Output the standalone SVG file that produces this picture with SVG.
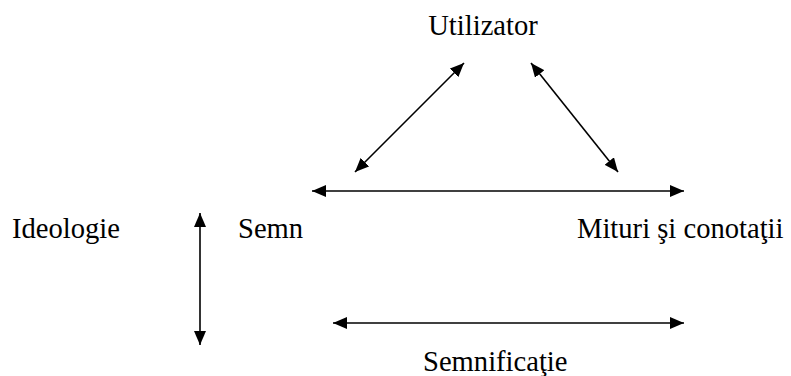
<svg xmlns="http://www.w3.org/2000/svg" width="791" height="376" viewBox="0 0 791 376">
  <style>
    .lbl { font-family: "Liberation Serif", "Times New Roman", serif; font-size: 28.6px; fill: #000; }
    .conn line { stroke: #000; stroke-width: 1.6; marker-start: url(#ah); marker-end: url(#ah); }
  </style>
  <defs>
    <marker id="ah" viewBox="0 0 14 12" refX="14" refY="6" markerWidth="14" markerHeight="12" markerUnits="userSpaceOnUse" orient="auto-start-reverse">
      <path d="M0,0 L14,6 L0,12 Z" fill="#000"/>
    </marker>
  </defs>
  <rect width="791" height="376" fill="#fff"/>

  <g id="node-utilizator"><text class="lbl" x="483" y="35" text-anchor="middle">Utilizator</text></g>
  <g id="node-ideologie"><text class="lbl" x="12" y="238">Ideologie</text></g>
  <g id="node-semn"><text class="lbl" x="238" y="238">Semn</text></g>
  <g id="node-mituri"><text class="lbl" x="577" y="238">Mituri şi conotaţii</text></g>
  <g id="node-semnificatie"><text class="lbl" x="423" y="371">Semnificaţie</text></g>

  <g id="connectors" class="conn">
    <line x1="355" y1="172" x2="464" y2="63"/>
    <line x1="531" y1="63" x2="618" y2="172"/>
    <line x1="312" y1="191" x2="684" y2="191"/>
    <line x1="333" y1="323" x2="684" y2="323"/>
    <line x1="200" y1="213" x2="200" y2="345"/>
  </g>
</svg>
